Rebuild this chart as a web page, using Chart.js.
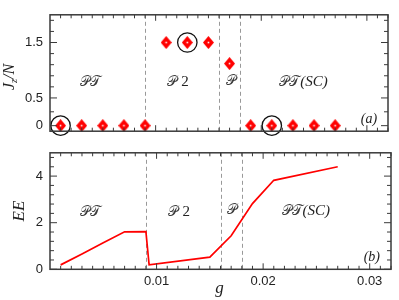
<!DOCTYPE html>
<html>
<head>
<meta charset="utf-8">
<script src="https://cdn.jsdelivr.net/npm/chart.js@4.4.1/dist/chart.umd.min.js"></script>
<style>
  body { margin: 0; background: #fff; width: 399px; height: 300px; position: relative; overflow: hidden; }
  canvas { position: absolute; left: 0; }
  #topChart { top: 0; z-index: 2; }
  #bottomChart { top: 138px; z-index: 1; }
</style>
</head>
<body>
<canvas id="topChart" width="399" height="146"></canvas>
<canvas id="bottomChart" width="399" height="162"></canvas>
<script>
// data
const gPoints = [0.001, 0.003, 0.005, 0.007, 0.009, 0.011, 0.013, 0.015, 0.017, 0.019, 0.021, 0.023, 0.025, 0.027];
const jzOverN = [0, 0, 0, 0, 0, 1.5, 1.5, 1.5, 1.12, 0, 0, 0, 0, 0];
const circledG = [0.001, 0.013, 0.021];
const circledJ = [0, 1.5, 0];
const eeG = [0.001, 0.003, 0.005, 0.007, 0.009, 0.0093, 0.015, 0.017, 0.019, 0.021, 0.027];
const eeValues = [0.19, 0.66, 1.14, 1.61, 1.62, 0.19, 0.52, 1.44, 2.82, 3.82, 4.40];
const phaseBounds = [0.009, 0.016, 0.018];
const xTickLabels = [0.01, 0.02, 0.03];
const jTickLabels = [0, 0.5, 1.5];
const eeTickLabels = [0, 2, 4];
const jMinorTicks = [0, 0.25, 0.5, 0.7, 0.9, 1.1, 1.3, 1.5, 1.7, 1.9];
const eeMinorTicks = [0, 0.4, 0.8, 1.2, 1.6, 2, 2.4, 2.8, 3.2, 3.6, 4, 4.4, 4.8];

const axisColor = '#3a3a3a';
const textColor = '#222';
const scriptFont = '14px "DejaVu Serif", "DejaVu Sans", serif';
const italicFont = 'italic 15px "Liberation Serif", serif';

// diamond marker with the little white centre dot
function makeDiamond(w, h) {
  const c = document.createElement('canvas');
  c.width = w; c.height = h;
  const g = c.getContext('2d');
  g.fillStyle = '#ff0000';
  g.beginPath();
  g.moveTo(w / 2, 0); g.lineTo(w, h / 2); g.lineTo(w / 2, h); g.lineTo(0, h / 2);
  g.closePath(); g.fill();
  g.fillStyle = '#fff';
  g.fillRect(w / 2 - 0.8, h / 2 - 0.8, 1.6, 1.6);
  return c;
}
const diamond = makeDiamond(11, 13);

// draw text made of several font runs, centred on (cx, cy)
function drawRich(ctx, parts, cx, cy, rot) {
  ctx.save();
  ctx.translate(cx, cy);
  if (rot) ctx.rotate(rot);
  ctx.textBaseline = 'alphabetic';
  ctx.textAlign = 'left';
  let total = 0;
  parts.forEach(p => { ctx.font = p.font; total += ctx.measureText(p.text).width; });
  let x = -total / 2;
  parts.forEach(p => {
    ctx.font = p.font;
    ctx.fillStyle = p.color || textColor;
    ctx.fillText(p.text, x, p.dy || 0);
    x += ctx.measureText(p.text).width;
  });
  ctx.restore();
}

function phaseParts(name) {
  const s = '#3c3c3c';
  if (name === 'PT') return [{ text: '\u{1D4AB}\u{1D4AF}', font: scriptFont, color: s }];
  if (name === 'P2') return [{ text: '\u{1D4AB} ', font: scriptFont, color: s }, { text: '2', font: '15px "Liberation Serif", serif' }];
  if (name === 'P') return [{ text: '\u{1D4AB}', font: scriptFont, color: s }];
  return [{ text: '\u{1D4AB}\u{1D4AF}', font: scriptFont, color: s }, { text: '(SC)', font: italicFont }];
}

const phaseNames = ['PT', 'P2', 'P', 'PTSC'];
const phaseLabelG = [0.0038, 0.0121, 0.0171, 0.0240];

function framePlugin(opts) {
  return {
    id: 'frame',
    beforeDatasetsDraw(chart) {
      const { ctx, chartArea: a, scales: { x } } = chart;
      ctx.save();
      ctx.strokeStyle = '#999';
      ctx.lineWidth = 1;
      ctx.setLineDash([4, 3]);
      phaseBounds.forEach(v => {
        const px = Math.round(x.getPixelForValue(v)) + 0.5;
        ctx.beginPath(); ctx.moveTo(px, a.top); ctx.lineTo(px, a.bottom); ctx.stroke();
      });
      ctx.restore();
    },
    afterDraw(chart) {
      const { ctx, chartArea: a, scales: { x, y } } = chart;
      ctx.save();
      ctx.strokeStyle = axisColor;
      ctx.lineWidth = 1;
      ctx.beginPath();
      for (let i = 1; i <= 32; i++) {
        const px = x.getPixelForValue(i / 1000);
        const len = i % 10 === 0 ? 6 : 3.5;
        ctx.moveTo(px, a.bottom); ctx.lineTo(px, a.bottom - len);
        ctx.moveTo(px, a.top); ctx.lineTo(px, a.top + len);
      }
      opts.minor.forEach(v => {
        const py = y.getPixelForValue(v);
        const len = opts.major.includes(v) ? 7 : 4;
        ctx.moveTo(a.left, py); ctx.lineTo(a.left + len, py);
        ctx.moveTo(a.right, py); ctx.lineTo(a.right - len, py);
      });
      ctx.stroke();
      ctx.lineWidth = 1.5;
      ctx.strokeRect(a.left, a.top, a.right - a.left, a.bottom - a.top);
      ctx.restore();

      phaseNames.forEach((n, i) => {
        drawRich(ctx, phaseParts(n), x.getPixelForValue(phaseLabelG[i]), y.getPixelForValue(opts.labelY[i]) + 5);
      });
      drawRich(ctx, [{ text: opts.tag, font: 'italic 14px "Liberation Serif", serif' }],
        x.getPixelForValue(0.0302), y.getPixelForValue(opts.tagY) + 5);
      drawRich(ctx, opts.title, opts.titleX, (a.top + a.bottom) / 2 + opts.titleShift, -Math.PI / 2);
      if (opts.xTitle) {
        drawRich(ctx, [{ text: 'g', font: 'italic 17px "Liberation Serif", serif' }], (a.left + a.right) / 2 - 1, a.bottom + 24);
      }
    }
  };
}

const tickFont = { family: '"Liberation Sans", Arial, sans-serif', size: 13 };

new Chart(document.getElementById('topChart'), {
  type: 'scatter',
  data: {
    datasets: [
      {
        data: circledG.map((g, i) => ({ x: g, y: circledJ[i] })),
        pointStyle: 'circle',
        pointRadius: 9.7,
        backgroundColor: 'rgba(0,0,0,0)',
        borderColor: '#111',
        borderWidth: 1.3,
        clip: false,
        order: 0
      },
      {
        data: gPoints.map((g, i) => ({ x: g, y: jzOverN[i] })),
        pointStyle: diamond,
        clip: false,
        order: 1
      }
    ]
  },
  options: {
    responsive: false,
    animation: false,
    devicePixelRatio: 1,
    layout: { padding: { top: 9, right: 8, bottom: 8.1, left: 0 } },
    plugins: { legend: { display: false }, tooltip: { enabled: false } },
    scales: {
      x: { type: 'linear', min: 0, max: 0.032, display: false },
      y: {
        min: -0.1, max: 2,
        afterBuildTicks: s => { s.ticks = jTickLabels.map(v => ({ value: v })); },
        afterFit: s => { s.width = 50; },
        grid: { display: false, drawTicks: false },
        border: { display: false },
        ticks: { font: tickFont, color: textColor, padding: 7, callback: v => String(v) }
      }
    }
  },
  plugins: [framePlugin({
    minor: jMinorTicks, major: jTickLabels,
    labelY: [0.81, 0.81, 0.83, 0.81], tag: '(a)', tagY: 0.14,
    title: [
      { text: 'J', font: 'italic 16px "Liberation Serif", serif' },
      { text: 'z', font: 'italic 10px "Liberation Serif", serif', dy: 3 },
      { text: '/N', font: 'italic 16px "Liberation Serif", serif' }
    ],
    titleX: 14, titleShift: 4
  })]
});

new Chart(document.getElementById('bottomChart'), {
  type: 'line',
  data: {
    datasets: [{
      data: eeG.map((g, i) => ({ x: g, y: eeValues[i] })),
      borderColor: '#ff0000',
      borderWidth: 1.7,
      pointRadius: 0,
      tension: 0,
      fill: false
    }]
  },
  options: {
    responsive: false,
    animation: false,
    devicePixelRatio: 1,
    layout: { padding: { top: 2.5, right: 8, bottom: 0, left: 0 } },
    plugins: { legend: { display: false }, tooltip: { enabled: false } },
    scales: {
      x: {
        type: 'linear', min: 0, max: 0.032,
        afterBuildTicks: s => { s.ticks = xTickLabels.map(v => ({ value: v })); },
        afterFit: s => { s.height = 30.7; },
        grid: { display: false, drawTicks: false },
        border: { display: false },
        ticks: { font: tickFont, color: textColor, padding: 4, maxRotation: 0, callback: v => v.toFixed(2) }
      },
      y: {
        min: 0, max: 5,
        afterBuildTicks: s => { s.ticks = eeTickLabels.map(v => ({ value: v })); },
        afterFit: s => { s.width = 50; },
        grid: { display: false, drawTicks: false },
        border: { display: false },
        ticks: { font: tickFont, color: textColor, padding: 7, callback: v => String(v) }
      }
    }
  },
  plugins: [framePlugin({
    minor: eeMinorTicks, major: eeTickLabels,
    labelY: [2.5, 2.5, 2.59, 2.56], tag: '(b)', tagY: 0.56,
    title: [{ text: 'EE', font: 'italic 17px "Liberation Serif", serif' }],
    titleX: 24, titleShift: 0,
    xTitle: true
  })]
});
</script>
</body>
</html>
